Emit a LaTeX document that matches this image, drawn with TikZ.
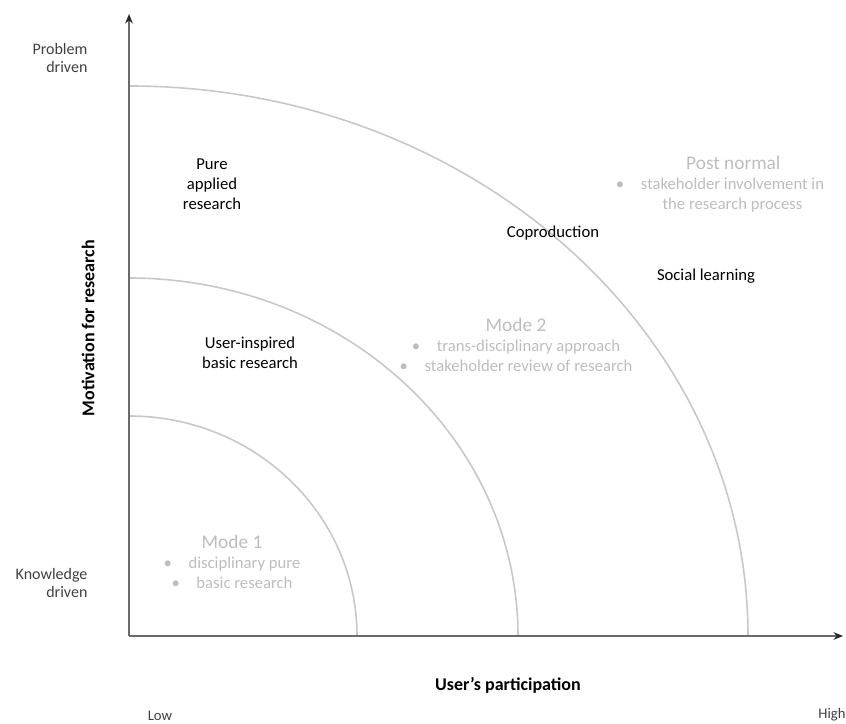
\documentclass[tikz,border=0pt]{standalone}
\usepackage{fontspec}
\setmainfont{Carlito}
\usetikzlibrary{arrows.meta}
\definecolor{axisgrey}{HTML}{6A6A6A}
\definecolor{ringgrey}{HTML}{C8C8C8}
\definecolor{fadegrey}{HTML}{BDBDBD}
\tikzset{
  lbl/.style={align=center, inner sep=1pt, font=\fontsize{12.5}{15}\selectfont},
  sidelbl/.style={align=right, inner sep=1pt, anchor=east, font=\fontsize{12}{14}\selectfont, text=black!75},
  faint/.style={lbl, text=fadegrey},
  axtitle/.style={inner sep=1pt, font=\fontsize{13.5}{16}\selectfont\bfseries},
  ring/.style={draw=ringgrey, line width=1.2pt},
  axis/.style={-{Stealth[length=2.5mm, width=2mm, color=black!85]}, draw=axisgrey, line width=1.4pt},
}
\newcommand{\mhead}[1]{{\fontsize{14.5}{17}\selectfont #1}}

\begin{document}
\begin{tikzpicture}[x=0.75pt, y=0.75pt]
    \useasboundingbox (-129,-88) rectangle (717,636);
    \coordinate (origin) at (0,0);
    \coordinate (ytop) at (0,622);
    \coordinate (xend) at (714,0);
    \draw[ring] (228,0) arc[start angle=0, end angle=90, x radius=228, y radius=220];
    \draw[ring] (389,0) arc[start angle=0, end angle=90, x radius=389, y radius=358];
    \draw[ring] (619,0) arc[start angle=0, end angle=90, x radius=619, y radius=550];
    \draw[axis] (origin) -- (ytop);
    \draw[axis] (origin) -- (xend);
    \node[sidelbl] (prob) at (-40,578) {Problem\\driven};
    \node[sidelbl] (know) at (-40,53) {Knowledge\\driven};
    \node[axtitle, rotate=90] (motiv) at (-41,308) {Motivation for research};
    \node[axtitle] (part) at (379,-49) {User's participation};
    \node[lbl, font=\fontsize{11}{13}\selectfont, text=black!75] (low) at (31,-80) {Low};
    \node[lbl, font=\fontsize{11}{13}\selectfont, text=black!75] (high) at (703,-79) {High};
    \node[lbl] (pure) at (83,452) {Pure\\applied\\research};
    \node[lbl] (useinsp) at (121,283) {User-inspired\\basic research};
    \node[lbl] (coprod) at (424,403) {Coproduction};
    \node[lbl] (social) at (577,360) {Social learning};
    \node[faint] (mode1) at (103,74) {\mhead{Mode 1}\\\textbullet\quad disciplinary\ pure\\\textbullet\quad basic research};
    \node[faint] (mode2) at (387,291) {\mhead{Mode 2}\\\textbullet\quad trans-disciplinary\ approach\\\textbullet\quad stakeholder review of research};
    \node[faint] (postn) at (591,450) {\hspace*{20pt}\mhead{Post normal}\\\textbullet\quad\begin{tabular}[t]{@{}c@{}}stakeholder involvement in\\the research process\end{tabular}};
  \end{tikzpicture}
\end{document}
